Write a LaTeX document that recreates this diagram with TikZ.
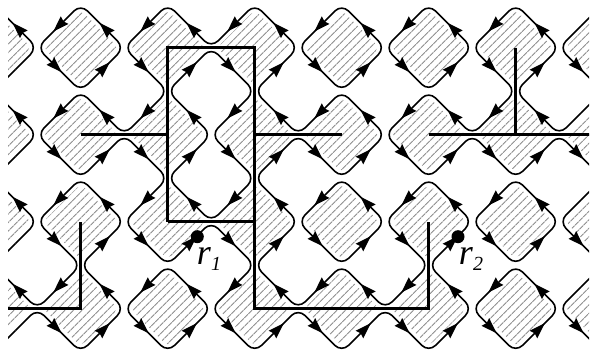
\documentclass[tikz,border=0pt]{standalone}
\usepackage{fontspec}
\setmainfont{Liberation Serif}
\usetikzlibrary{arrows.meta}

% curves of a crossing, each from mid side to mid side
\newcommand{\curveN}[1]{\draw[loopline] (#1) ++(-21.75,-21.75) -- (#1) -- ++(21.75,-21.75);}
\newcommand{\curveS}[1]{\draw[loopline] (#1) ++(-21.75,21.75) -- (#1) -- ++(21.75,21.75);}
\newcommand{\curveW}[1]{\draw[loopline] (#1) ++(-21.75,-21.75) -- (#1) -- ++(-21.75,21.75);}
\newcommand{\curveE}[1]{\draw[loopline] (#1) ++(21.75,-21.75) -- (#1) -- ++(21.75,21.75);}
\newcommand{\subnum}[1]{\raisebox{-6pt}{\fontsize{20}{20}\selectfont #1}}

\begin{document}
\begin{tikzpicture}[
  x=1pt, y=-1pt,
  loopline/.style={black, line width=1.6pt, rounded corners=9.5pt},
  bond/.style={black, line width=3.5pt},
  hatchline/.style={gray!90, line width=0.9pt, dash pattern=on 5pt off 0.7pt},
  tip/.style={-{Stealth[length=16pt,width=10.5pt,inset=1.5pt]}, black, line width=1.6pt},
  dotnode/.style={circle, fill=black, minimum size=13pt, inner sep=0pt},
  rlabel/.style={font=\fontsize{36}{36}\selectfont\itshape, inner sep=0pt}
]
  \useasboundingbox (0,0) rectangle (592,352);
  \clip (8,0) rectangle (589,352);

  \foreach \c in {0,...,7} {
    \foreach \r in {0,...,4} {
      \coordinate (p\c-\r) at ({-6.3+87*\c}, {-39.3+87*\r});
      \coordinate (h\c-\r) at ({37.2+87*\c}, {-39.3+87*\r});
      \coordinate (v\c-\r) at ({-6.3+87*\c}, {4.2+87*\r});
    }
  }

  % hatching inside the squares
  \begin{scope}
    \clip[rounded corners=5pt] \foreach \c in {0,...,7} { \foreach \r in {1,...,4} {
      (p\c-\r) ++(0,-37.5) -- ++(-37.5,37.5) -- ++(37.5,37.5) -- ++(37.5,-37.5) -- cycle } };
    \foreach \s in {1.3,9.8,...,945} {
      \draw[hatchline] (\s,0) -- (\s-352,352);
    }
  \end{scope}

  % crossings along the rows
  \foreach \r/\cs in {1/{0,1,3,4,5,6}, 2/{0,2,4}, 3/{0,1,3,4,5,6}, 4/{1,2,5,6}} {
    \foreach \c in \cs { \curveW{h\c-\r} \curveE{h\c-\r} }
  }
  \foreach \r/\cs in {1/{2}, 2/{1,3,5,6}, 3/{2}, 4/{0,3,4}} {
    \foreach \c in \cs { \curveN{h\c-\r} \curveS{h\c-\r} }
  }
  % crossings along the columns
  \foreach \r/\cs in {1/{0,1,4,5,7}, 2/{0,1,4,5,6,7}, 3/{0,2,4,6,7}} {
    \foreach \c in \cs { \curveN{v\c-\r} \curveS{v\c-\r} }
  }
  \foreach \r/\cs in {1/{2,3,6}, 2/{2,3}, 3/{1,3,5}} {
    \foreach \c in \cs { \curveW{v\c-\r} \curveE{v\c-\r} }
  }
  \foreach \c in {0,...,7} {
    \curveS{v\c-0}
    \curveN{v\c-4}
  }

  % arrowheads, counterclockwise round every square
  \foreach \r in {1,...,4} {
    \foreach \c in {1,...,6} {
      \draw[tip] (p\c-\r) ++(-17.5,-26.1) -- ++(-10,10);
      \draw[tip] (p\c-\r) ++(19.2,24.4) -- ++(10,-10);
    }
    \foreach \c in {0,...,6} {
      \draw[tip] (p\c-\r) ++(28.7,-14.9) -- ++(-10,-10);
    }
    \foreach \c in {1,...,7} {
      \draw[tip] (p\c-\r) ++(-28.9,14.7) -- ++(10,10);
    }
  }

  % thick lines
  \draw[bond] (p1-2) -- (p2-2);
  \draw[bond] (p2-3) -- (p2-1) -- (p3-1) -- (p3-4) -- (p5-4) -- (p5-3);
  \draw[bond] (p2-3) -- (p3-3);
  \draw[bond] (p3-2) -- (p4-2);
  \draw[bond] (p5-2) -- (p7-2);
  \draw[bond] (p6-1) -- (p6-2);
  \draw[bond] (p0-4) -- (p1-4) -- (p1-3);

  \node[dotnode] (dot1) at (197.3,236.7) {};
  \node[dotnode] (dot2) at (458,236.7) {};
  \node[rlabel] (r1) at (209,259) {r\subnum{1}};
  \node[rlabel] (r2) at (471,259) {r\subnum{2}};
\end{tikzpicture}
\end{document}
